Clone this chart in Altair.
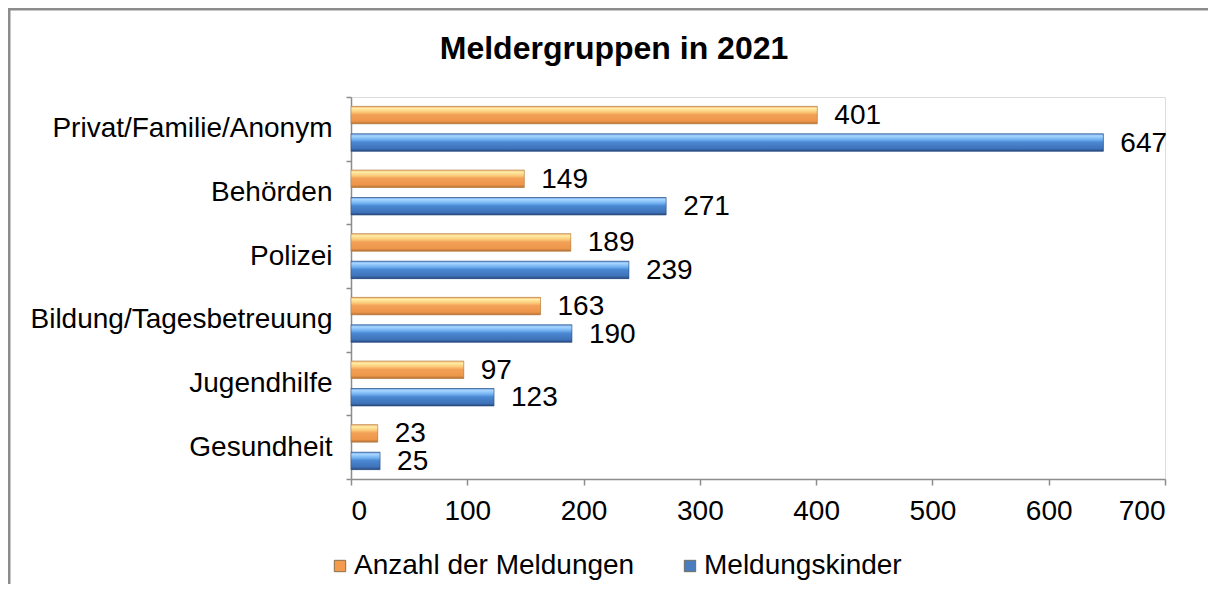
import altair as alt
import pandas as pd

categories = ["Privat/Familie/Anonym", "Behörden", "Polizei",
              "Bildung/Tagesbetreuung", "Jugendhilfe", "Gesundheit"]
series = ["Anzahl der Meldungen", "Meldungskinder"]
meldungen = [401, 149, 189, 163, 97, 23]
kinder = [647, 271, 239, 190, 123, 25]
x_ticks = [0, 100, 200, 300, 400, 500, 600, 700]
colors = ["#F39A4C", "#4A7DC0"]
title_text = "Meldergruppen in 2021"

rows = []
for c, a, b in zip(categories, meldungen, kinder):
    rows.append({"Gruppe": c, "Reihe": series[0], "Wert": a})
    rows.append({"Gruppe": c, "Reihe": series[1], "Wert": b})
df = pd.DataFrame(rows)

FONT = "Liberation Sans"
GRAY = "#8c8c8c"

y_enc = alt.Y(
    "Gruppe:N", sort=categories,
    scale=alt.Scale(paddingInner=0, paddingOuter=0),
    axis=alt.Axis(title=None, labelFont=FONT, labelFontSize=28, labelColor="black",
                  labelPadding=14, tickBand="extent", tickSize=5, tickColor=GRAY,
                  domainColor=GRAY, domainWidth=1.5, tickWidth=1.5, labelLimit=500),
)
yoff = alt.YOffset("Reihe:N", sort=series,
                   scale=alt.Scale(paddingInner=0.364, paddingOuter=0.34))
x_enc = alt.X(
    "Wert:Q", scale=alt.Scale(domain=[0, 700], nice=False),
    axis=alt.Axis(values=x_ticks, title=None, grid=False, labelFont=FONT,
                  labelFontSize=28, labelColor="black", labelPadding=12,
                  tickSize=6, tickColor=GRAY, domainColor=GRAY, domainWidth=1.5,
                  tickWidth=1.5, format="d"),
)

base = alt.Chart(df)

bars = base.mark_bar().encode(
    x=x_enc, y=y_enc, yOffset=yoff,
    color=alt.Color("Reihe:N", sort=series,
                    scale=alt.Scale(domain=series, range=colors),
                    legend=alt.Legend(orient="none", direction="horizontal",
                                      legendX=-25, legendY=455, title=None,
                                      labelFont=FONT, labelFontSize=28,
                                      labelColor="black", symbolType="square",
                                      symbolSize=130, symbolStrokeWidth=0.8,
                                      symbolStrokeColor="#6a5a40",
                                      columnPadding=41, labelOffset=0,
                                      labelLimit=500)),
)

grad_orange = alt.Gradient(
    gradient="linear", x1=0, x2=0, y1=0, y2=1,
    stops=[alt.GradientStop(offset=0, color="#F4B575"),
           alt.GradientStop(offset=0.12, color="#FFEDA6"),
           alt.GradientStop(offset=0.32, color="#FBCB7A"),
           alt.GradientStop(offset=0.48, color="#F3A057"),
           alt.GradientStop(offset=0.85, color="#EC964A"),
           alt.GradientStop(offset=1, color="#B46E34")])
grad_blue = alt.Gradient(
    gradient="linear", x1=0, x2=0, y1=0, y2=1,
    stops=[alt.GradientStop(offset=0, color="#6EA5E4"),
           alt.GradientStop(offset=0.12, color="#A8D6FF"),
           alt.GradientStop(offset=0.32, color="#74B3F2"),
           alt.GradientStop(offset=0.48, color="#4A88D2"),
           alt.GradientStop(offset=0.85, color="#3E72B8"),
           alt.GradientStop(offset=1, color="#26467A")])

y_plain = alt.Y("Gruppe:N", sort=categories)
yoff_plain = alt.YOffset("Reihe:N", sort=series)

over_o = base.transform_filter(alt.datum.Reihe == series[0]).mark_bar(
    fill=grad_orange, stroke="#B0804A", strokeWidth=0.6).encode(
    x="Wert:Q", y=y_plain, yOffset=yoff_plain)
over_b = base.transform_filter(alt.datum.Reihe == series[1]).mark_bar(
    fill=grad_blue, stroke="#2E4F80", strokeWidth=0.6).encode(
    x="Wert:Q", y=y_plain, yOffset=yoff_plain)

labels = base.mark_text(align="left", baseline="middle", dx=17, dy=1, font=FONT,
                        fontSize=28, color="black").encode(
    x="Wert:Q", y=y_plain, yOffset=yoff_plain, text="Wert:Q")

one_df = pd.DataFrame({"t": [title_text]})
title = alt.Chart(one_df).mark_text(font=FONT, fontSize=32, fontWeight="bold",
                                    color="black", align="center",
                                    baseline="alphabetic").encode(
    x=alt.value(263), y=alt.value(-38), text="t:N")

frame_top = alt.Chart(one_df).mark_rule(color=GRAY, strokeWidth=3).encode(
    x=alt.value(-343), x2=alt.value(857), y=alt.value(-88))
frame_left = alt.Chart(one_df).mark_rule(color=GRAY, strokeWidth=3).encode(
    x=alt.value(-342), y=alt.value(-89), y2=alt.value(500))

chart = alt.layer(bars, over_o, over_b, labels, title, frame_top, frame_left).properties(
    width=814, height=382,
    autosize=alt.AutoSizeParams(type="none"),
    padding={"left": 343, "top": 89, "right": 43, "bottom": 105},
).configure_view(stroke=None).configure(background="white")

chart.save("out.html", embed_options={"renderer": "svg", "actions": False})
